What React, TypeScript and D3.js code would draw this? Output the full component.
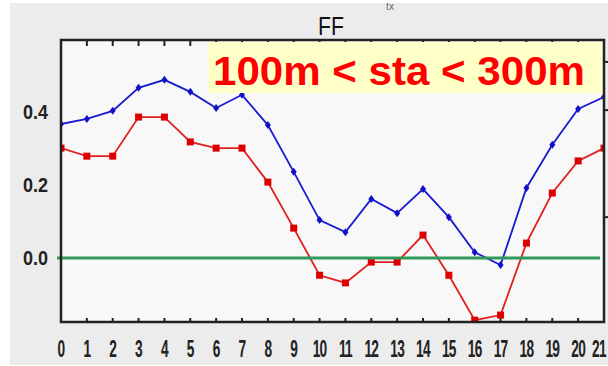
import React from "react";
import * as d3 from "d3";

const hours = d3.range(0, 22);
const xTickLabels = hours.map((h) => String(h));
const blueValues = [0.367, 0.381, 0.403, 0.466, 0.488, 0.455, 0.411, 0.447, 0.364, 0.236, 0.104, 0.071, 0.162, 0.123, 0.189, 0.112, 0.016, -0.019, 0.192, 0.31, 0.408, 0.441];
const redValues = [0.301, 0.279, 0.279, 0.386, 0.386, 0.318, 0.301, 0.301, 0.208, 0.082, -0.047, -0.068, -0.011, -0.011, 0.063, -0.047, -0.17, -0.156, 0.041, 0.178, 0.266, 0.301];
const yTickValues = [0.4, 0.2, 0.0];
const yTickLabels = ["0.4", "0.2", "0.0"];
const rightTickValues = [0.537, 0.405, 0.112];
const titleText = "FF";
const topText = "tx";
const labelText = "100m < sta < 300m";

const W = 608;
const H = 366;
const left = 61;
const right = 604;
const top = 40;
const bottom = 322;

export default function App() {
  const x = d3.scaleLinear().domain([0, 21]).range([left, right]);
  const y = d3.scaleLinear().domain([-0.175, 0.597]).range([bottom, top]);
  const line = d3
    .line<number>()
    .x((_, i) => x(hours[i]))
    .y((d) => y(d));
  const diamond = "M0,-4L3,0L0,4L-3,0Z";

  return (
    <svg
      width={W}
      height={H}
      style={{ position: "absolute", left: 0, top: 0, display: "block" }}
      fontFamily="'Liberation Sans', Arial, sans-serif"
    >
      <rect x={0} y={0} width={W} height={H} fill="#ffffff" />
      <rect x={10} y={3} width={W - 10} height={362} fill="#ececec" />
      <defs>
        <clipPath id="plotClip">
          <rect x={left} y={top} width={right - left} height={bottom - top} />
        </clipPath>
      </defs>
      <rect x={left} y={top} width={right - left} height={bottom - top} fill="#f8f8f8" />

      {/* top small text */}
      <text x={390} y={10} fontSize={10} textAnchor="middle" fill="#666">{topText}</text>
      {/* title */}
      <text x={331} y={35} fontSize={25} textAnchor="middle" fill="#111" transform="translate(331,0) scale(0.85,1) translate(-331,0)">
        {titleText}
      </text>

      {/* ticks top and bottom */}
      {hours.map((h) => (
        <g key={"t" + h}>
          <line x1={x(h)} x2={x(h)} y1={top} y2={top + 6} stroke="#222" strokeWidth={2} />
          <line x1={x(h)} x2={x(h)} y1={bottom} y2={bottom - 4} stroke="#222" strokeWidth={2} />
        </g>
      ))}
      {rightTickValues.map((v, i) => (
        <line key={"r" + i} x1={right} x2={right + 5} y1={y(v)} y2={y(v)} stroke="#222" strokeWidth={2} />
      ))}

      <g clipPath="url(#plotClip)">
        <path d={line(redValues) || ""} fill="none" stroke="#e02020" strokeWidth={1.8} />
        <path d={line(blueValues) || ""} fill="none" stroke="#1a1ad0" strokeWidth={1.8} />
        {redValues.map((v, i) => (
          <rect key={"rm" + i} x={x(hours[i]) - 3.5} y={y(v) - 3.5} width={7} height={7} fill="#dd0000" />
        ))}
        {blueValues.map((v, i) => (
          <path key={"bm" + i} d={diamond} transform={`translate(${x(hours[i])},${y(v)})`} fill="#1010c8" />
        ))}
      </g>

      {/* zero line */}
      <line x1={57} x2={600} y1={y(0)} y2={y(0)} stroke="#2f9a5a" strokeWidth={3} />

      {/* axes box */}
      <rect x={left} y={top} width={right - left} height={bottom - top} fill="none" stroke="#222" strokeWidth={2.5} />

      {/* y labels */}
      {yTickValues.map((v, i) => (
        <text
          key={"yl" + i}
          x={48}
          y={y(v) + 7}
          fontSize={20}
          fontWeight="bold"
          textAnchor="end"
          fill="#222"
          transform={`translate(48,0) scale(0.9,1) translate(-48,0)`}
        >
          {yTickLabels[i]}
        </text>
      ))}

      {/* x labels */}
      {hours.map((h, i) => {
        const cx = Math.min(x(h), 599);
        return (
          <text
            key={"xl" + h}
            x={cx}
            y={0}
            fontSize={19}
            fontWeight="bold"
            textAnchor="middle"
            fill="#222"
            transform={`translate(${cx},357) scale(0.72,1.3) translate(${-cx},0)`}
            letterSpacing={-1}
          >
            {xTickLabels[i]}
          </text>
        );
      })}

      {/* annotation */}
      <rect x={208} y={42} width={394} height={51} fill="#ffffc8" />
      <text
        x={213}
        y={85}
        fontSize={41}
        fontWeight="bold"
        fill="#ff0000"
        textLength={372}
        lengthAdjust="spacingAndGlyphs"
      >
        {labelText}
      </text>
    </svg>
  );
}
